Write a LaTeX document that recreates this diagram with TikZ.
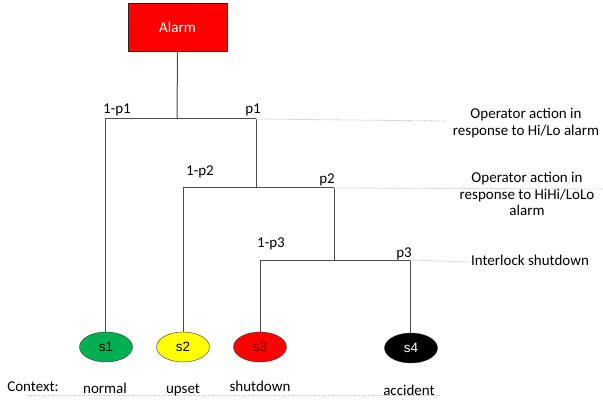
\documentclass[tikz,border=0pt]{standalone}
\usepackage{fontspec}
\setmainfont{Carlito}
\newfontfamily\statefont{Liberation Sans}
\usetikzlibrary{shapes,positioning}

\definecolor{alarmred}{RGB}{255,0,0}
\definecolor{normalgreen}{RGB}{0,176,80}
\definecolor{upsetyellow}{RGB}{255,255,0}
\definecolor{shutred}{RGB}{255,0,0}
\definecolor{darkred}{RGB}{110,0,0}

\begin{document}
\begin{tikzpicture}[x=1pt,y=-1pt,
    font=\fontsize{15}{16.8}\selectfont,
    branch/.style={draw=black!70, line width=1pt},
    guide/.style={draw=black!22, line width=0.8pt, dash pattern=on 1.5pt off 1pt},
    state/.style={ellipse, draw=black!80, minimum width=53pt, minimum height=30pt,
      inner sep=0pt, font=\statefont\fontsize{13.5}{15}\selectfont},
    lbl/.style={inner sep=0pt},
    note/.style={align=center, inner sep=0pt}]

  \useasboundingbox (0,0) rectangle (603,401);

  % Alarm box
  \node[draw=black!85, fill=alarmred, text=white, minimum width=99pt,
    minimum height=48pt] (alarm) at (177.5,27) {Alarm};

  % Junctions
  \coordinate (a1) at (177,119);
  \coordinate (l1) at (105,119);
  \coordinate (r1) at (256,119);
  \coordinate (a2) at (256,188);
  \coordinate (l2) at (183,188);
  \coordinate (r2) at (334,188);
  \coordinate (a3) at (334,260);
  \coordinate (l3) at (260,260);
  \coordinate (r3) at (410,260);

  % States
  \node[state, fill=normalgreen] (s1) at (106,347) {s1};
  \node[state, fill=upsetyellow] (s2) at (183,347) {s2};
  \node[state, fill=shutred, text=darkred] (s3) at (260,347) {s3};
  \node[state, fill=black, text=white] (s4) at (411,348) {s4};

  % Tree
  \draw[branch] (alarm.south) -- (a1);
  \draw[branch] (l1) -- (r1);
  \draw[branch] (l1) -- (l1 |- s1.north);
  \draw[branch] (r1) -- (a2);
  \draw[branch] (l2) -- (r2);
  \draw[branch] (l2) -- (s2);
  \draw[branch] (r2) -- (a3);
  \draw[branch] (l3) -- (r3);
  \draw[branch] (l3) -- (s3);
  \draw[branch] (r3) -- (r3 |- s4.north);

  % Branch probabilities
  \node[lbl] (q1) at (117,110) {1-p1};
  \node[lbl] (p1) at (253,110) {p1};
  \node[lbl] (q2) at (200,172) {1-p2};
  \node[lbl] (p2) at (327,180) {p2};
  \node[lbl] (q3) at (271,244) {1-p3};
  \node[lbl] (p3) at (404,254) {p3};

  % Layers
  \node[note] (n1) at (526,123) {Operator action in\\response to Hi/Lo alarm};
  \node[note] (n2) at (527,194) {Operator action in\\response to HiHi/LoLo\\alarm};
  \node[note] (n3) at (530,260) {Interlock shutdown};

  \coordinate (g1) at (445,121);
  \coordinate (g2) at (603,189);
  \coordinate (g3) at (470,262);
  \draw[guide] (r1) -- (g1);
  \draw[guide] (r2) -- (g2);
  \draw[guide] (r3) -- (g3);

  % Context row
  \node[lbl] (ctx) at (33,387) {Context:};
  \node[lbl] (c1) at (105,388) {normal};
  \node[lbl] (c2) at (183,390) {upset};
  \node[lbl] (c3) at (260,386) {shutdown};
  \node[lbl] (c4) at (409,390) {accident};
  \coordinate (b0) at (28,395);
  \coordinate (b1) at (440,395);
  \draw[guide] (b0) -- (b1);
\end{tikzpicture}
\end{document}
